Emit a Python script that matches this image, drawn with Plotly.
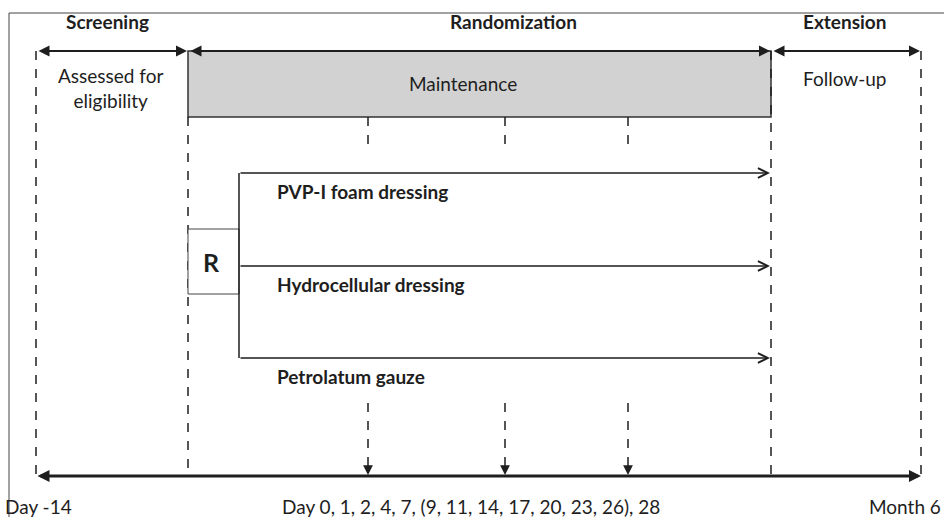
import plotly.graph_objects as go

# study phases along the timeline (x in pixels of the 944x517 canvas)
phase_names = ["Screening", "Randomization", "Extension"]
phase_edges = [36, 188, 771, 921]
phase_notes = ["Assessed for<br>eligibility", "Maintenance", "Follow-up"]

# treatment arms
arm_names = ["PVP-I foam dressing", "Hydrocellular dressing", "Petrolatum gauze"]
arm_y = [173, 266, 358]

# visit markers
visit_x = [368, 505, 628]

# timeline tick labels
timeline_labels = ["Day -14", "Day 0, 1, 2, 4, 7, (9, 11, 14, 17, 20, 23, 26), 28", "Month 6"]

INK = "#1e1e1e"
FONT = "Lato"
FS = 19

fig = go.Figure()
shapes = []
ann = []

top_y = 51
box_bottom = 117
axis_y = 476

# outer frame (top + left border)
shapes.append(dict(type="line", x0=9, x1=944, y0=13, y1=13, line=dict(color="#444", width=1)))
shapes.append(dict(type="line", x0=9, x1=9, y0=13, y1=517, line=dict(color="#444", width=1)))

# grey maintenance box
shapes.append(dict(type="rect", x0=phase_edges[1], x1=phase_edges[2], y0=top_y, y1=box_bottom,
                   fillcolor="#d2d2d2", line=dict(color="#333", width=1.5), layer="below"))

# dashed verticals at phase edges
for i, x in enumerate(phase_edges):
    y0 = box_bottom if i == 1 else top_y
    shapes.append(dict(type="line", x0=x, x1=x, y0=y0, y1=axis_y,
                       line=dict(color=INK, width=1.5, dash="dash")))

# short dashed ticks under the box
for x in visit_x:
    shapes.append(dict(type="line", x0=x, x1=x, y0=box_bottom, y1=146,
                       line=dict(color=INK, width=1.5, dash="dash")))

# phase headers and span arrows
header_x = [107, 513, 845]
for i, name in enumerate(phase_names):
    a, b = phase_edges[i], phase_edges[i + 1]
    ann.append(dict(x=header_x[i], y=21, text="<b>%s</b>" % name, showarrow=False,
                    font=dict(size=FS, color=INK, family=FONT), xanchor="center", yanchor="middle"))
    ann.append(dict(x=b - 1, y=top_y, ax=a + 1, ay=top_y, axref="x", ayref="y", text="",
                    showarrow=True, arrowside="end+start", arrowhead=2, startarrowhead=2,
                    arrowsize=1.1, startarrowsize=1.1, arrowwidth=2, arrowcolor=INK))

note_x = [110, 463, 845]
note_y = [88, 83, 78]
for x, y, t in zip(note_x, note_y, phase_notes):
    ann.append(dict(x=x, y=y, text=t, showarrow=False, font=dict(size=FS, color=INK, family=FONT),
                    xanchor="center", yanchor="middle"))

# R box and arms
r_left, r_right = phase_edges[1], 239
shapes.append(dict(type="rect", x0=r_left, x1=r_right, y0=229, y1=294,
                   line=dict(color="#444", width=1), fillcolor="white"))
ann.append(dict(x=(r_left + r_right) / 2 - 2, y=262, text="<b>R</b>", showarrow=False,
                font=dict(size=25, color=INK, family=FONT)))
shapes.append(dict(type="line", x0=r_right, x1=r_right, y0=arm_y[0], y1=arm_y[-1],
                   line=dict(color=INK, width=1.5)))
for y, name in zip(arm_y, arm_names):
    ann.append(dict(x=phase_edges[2] - 1, y=y, ax=r_right, ay=y, axref="x", ayref="y", text="",
                    showarrow=True, arrowhead=5, arrowsize=1.3, arrowwidth=1.5, arrowcolor=INK))
    ann.append(dict(x=275, y=y + 18, text="<b>%s</b>" % name, showarrow=False, xanchor="left",
                    yanchor="middle", font=dict(size=FS, color=INK, family=FONT)))

# dashed visit arrows to the timeline
for x in visit_x:
    shapes.append(dict(type="line", x0=x, x1=x, y0=403, y1=466,
                       line=dict(color=INK, width=1.5, dash="dash")))
    ann.append(dict(x=x, y=axis_y - 1, ax=x, ay=466, axref="x", ayref="y", text="",
                    showarrow=True, arrowhead=2, arrowsize=1.3, arrowwidth=1.5, arrowcolor=INK))

# main timeline
ann.append(dict(x=phase_edges[-1], y=axis_y, ax=phase_edges[0], ay=axis_y, axref="x", ayref="y",
                text="", showarrow=True, arrowside="end+start", arrowhead=2, startarrowhead=2,
                arrowsize=0.8, startarrowsize=0.8, arrowwidth=3, arrowcolor=INK))

lab_x = [3, 471, 943]
lab_anchor = ["left", "center", "right"]
for x, t, xa in zip(lab_x, timeline_labels, lab_anchor):
    ann.append(dict(x=x, y=506, text=t, showarrow=False, xanchor=xa, yanchor="middle",
                    font=dict(size=FS, color=INK, family=FONT)))

fig.update_layout(
    width=944, height=517,
    margin=dict(l=0, r=0, t=0, b=0),
    paper_bgcolor="white", plot_bgcolor="white",
    xaxis=dict(range=[0, 944], visible=False, fixedrange=True),
    yaxis=dict(range=[517, 0], visible=False, fixedrange=True),
    shapes=shapes, annotations=ann, showlegend=False,
)

fig.write_html("out.html", config={"displayModeBar": False},
               post_script="document.body.style.margin='0';")
